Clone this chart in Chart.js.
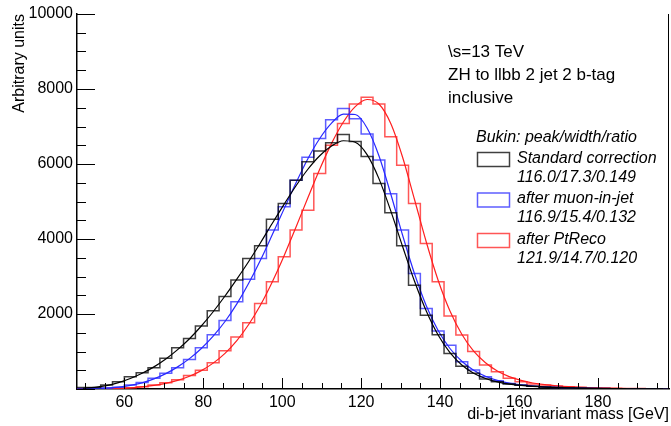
<!DOCTYPE html>
<html>
<head>
<meta charset="utf-8">
<script src="https://cdn.jsdelivr.net/npm/chart.js@4"></script>
<style>
  body { margin: 0; background: #fff; }
</style>
</head>
<body>
<canvas id="massChart" width="671" height="426"></canvas>
<script>
// binning of the di-b-jet mass histograms (GeV)
const massLow = 48;
const binWidth = 3;

// histogram contents, one value per 3 GeV bin
const standardHist = [40, 40, 110, 195, 330, 435, 570, 820, 1100, 1350, 1680, 2090, 2470, 2910, 3480, 3820, 4530, 4950, 5570, 6060,
  6350, 6570, 6790, 6600, 6200, 5480, 4700, 3820, 2770, 1970, 1450, 950, 610, 420, 270, 195, 133, 100, 75, 55,
  40, 30, 22, 16, 12, 10, 8, 6, 5, 4];
const muonHist = [15, 20, 30, 50, 110, 175, 285, 420, 570, 790, 1100, 1450, 1830, 2330, 2930, 3480, 4240, 4860, 5570, 6180,
  6680, 7180, 7480, 7210, 6800, 6110, 5210, 4240, 3080, 2150, 1550, 1170, 730, 507, 330, 222, 150, 107, 75, 55,
  40, 30, 20, 15, 12, 10, 8, 6, 5, 4];
const ptrecoHist = [5, 8, 12, 20, 36, 62, 107, 169, 245, 360, 500, 700, 1020, 1390, 1770, 2280, 2860, 3530, 4240, 4770,
  5750, 6500, 7080, 7600, 7780, 7600, 6730, 5970, 4950, 3880, 2860, 1950, 1440, 1000, 640, 460, 285, 196, 133, 107,
  80, 60, 45, 35, 25, 20, 15, 12, 10, 8];

const standardFit = [20, 45, 90, 170, 280, 420, 590, 800, 1050, 1340, 1680, 2060, 2480, 2930, 3400, 3900, 4420, 4930, 5420, 5860,
  6220, 6480, 6620, 6580, 6250, 5610, 4750, 3800, 2880, 2080, 1440, 970, 640, 420, 280, 190, 130, 95, 70, 52,
  40, 30, 22, 16, 12, 9, 7, 5, 4, 3];
const muonFit = [5, 12, 25, 50, 95, 165, 270, 410, 590, 810, 1080, 1410, 1800, 2270, 2820, 3440, 4120, 4810, 5500, 6140,
  6680, 7090, 7330, 7320, 6960, 6220, 5200, 4100, 3080, 2220, 1560, 1080, 740, 500, 340, 230, 160, 110, 80, 58,
  42, 30, 22, 16, 12, 9, 7, 5, 4, 3];
const ptrecoFit = [2, 5, 10, 18, 30, 55, 95, 150, 230, 340, 490, 690, 950, 1290, 1720, 2240, 2860, 3560, 4320, 5100,
  5860, 6550, 7120, 7530, 7720, 7600, 7080, 6180, 5060, 3920, 2900, 2080, 1460, 1010, 700, 480, 330, 230, 160, 115,
  85, 62, 46, 34, 25, 19, 14, 10, 8, 6];

const seriesNames = ["Standard correction", "after muon-in-jet", "after PtReco"];
const fitResults = ["116.0/17.3/0.149", "116.9/15.4/0.132", "121.9/14.7/0.120"];
const infoLines = ["\\s=13 TeV", "ZH to llbb 2 jet 2 b-tag", "inclusive"];

const xTicks = [60, 80, 100, 120, 140, 160, 180];
const yTicks = [2000, 4000, 6000, 8000, 10000];

const colors = ["rgb(0,0,0)", "rgb(40,40,255)", "rgb(255,30,30)"];
const histColors = ["rgba(0,0,0,0.75)", "rgba(40,40,255,0.75)", "rgba(255,30,30,0.75)"];

function stepPoints(vals) {
  const pts = vals.map((v, i) => ({ x: massLow + i * binWidth, y: v }));
  pts.push({ x: massLow + vals.length * binWidth, y: vals[vals.length - 1] });
  return pts;
}

function curvePoints(vals) {
  return vals.map((v, i) => ({ x: massLow + (i + 0.5) * binWidth, y: v }));
}

const hists = [standardHist, muonHist, ptrecoHist];
const fits = [standardFit, muonFit, ptrecoFit];
const datasets = [];
hists.forEach((h, k) => {
  datasets.push({
    data: stepPoints(h),
    stepped: "before", // each bin value holds until the next edge
    borderColor: histColors[k],
    borderWidth: 1.5,
    pointRadius: 0,
  });
  datasets.push({
    data: curvePoints(fits[k]),
    borderColor: colors[k],
    borderWidth: 1.2,
    pointRadius: 0,
    cubicInterpolationMode: "monotone",
  });
});

// ROOT-like inside ticks, right frame line and the text legend
const rootFrame = {
  id: "rootFrame",
  afterDatasetsDraw(chart) {
    const { ctx, chartArea: a, scales: { x, y } } = chart;
    ctx.save();
    ctx.strokeStyle = "#000";
    ctx.lineWidth = 1;
    ctx.beginPath();
    for (let v = 0; v <= 10000; v += 500) {
      const py = Math.round(y.getPixelForValue(v)) + 0.5;
      const len = v % 2000 === 0 ? 18 : 9;
      ctx.moveTo(a.left, py);
      ctx.lineTo(a.left + len, py);
    }
    for (let v = 50; v <= 195; v += 5) {
      const px = Math.round(x.getPixelForValue(v)) + 0.5;
      const len = v % 20 === 0 ? 11 : 6;
      ctx.moveTo(px, a.bottom);
      ctx.lineTo(px, a.bottom - len);
    }
    ctx.moveTo(a.right - 0.5, a.top);
    ctx.lineTo(a.right - 0.5, a.bottom);
    ctx.stroke();

    ctx.fillStyle = "#000";
    ctx.textBaseline = "middle";
    ctx.font = "17px 'Liberation Sans', Arial, sans-serif";
    infoLines.forEach((t, i) => ctx.fillText(t, 448, 52 + i * 23));

    ctx.font = "italic 16px 'Liberation Sans', Arial, sans-serif";
    ctx.fillText("Bukin: peak/width/ratio", 476, 138);
    seriesNames.forEach((name, i) => {
      const top = 152 + i * 40.5;
      ctx.strokeStyle = histColors[i];
      ctx.lineWidth = 1.5;
      ctx.strokeRect(477.5, top + 0.5, 32, 14);
      ctx.fillText(name, 517, top + 6.5);
      ctx.fillText(fitResults[i], 517, top + 25.5);
    });
    ctx.restore();
  },
};

const tickFont = { size: 16, family: "'Liberation Sans', Arial" };

new Chart(document.getElementById("massChart"), {
  type: "line",
  data: { datasets },
  options: {
    responsive: false,
    devicePixelRatio: 1,
    animation: false,
    layout: { padding: { top: 14, right: 2, left: 0, bottom: 0 } },
    plugins: { legend: { display: false }, tooltip: { enabled: false } },
    scales: {
      x: {
        type: "linear",
        min: 48,
        max: 198,
        afterBuildTicks: (s) => { s.ticks = xTicks.map((v) => ({ value: v })); },
        afterFit: (s) => { s.height = 37; },
        grid: { display: false, drawTicks: false },
        border: { color: "#000", width: 1.5 },
        ticks: { color: "#000", padding: 4, maxRotation: 0, font: tickFont, callback: (v) => String(v) },
        title: {
          display: true, text: "di-b-jet invariant mass [GeV]", align: "end", color: "#000",
          padding: { top: 0, bottom: 2 }, font: tickFont,
        },
      },
      y: {
        min: 0,
        max: 10000,
        afterBuildTicks: (s) => { s.ticks = yTicks.map((v) => ({ value: v })); },
        afterFit: (s) => { s.width = 77; },
        grid: { display: false, drawTicks: false },
        border: { color: "#000", width: 1.5 },
        ticks: { color: "#000", padding: 4, font: tickFont, callback: (v) => String(v) },
        title: {
          display: true, text: "Arbitrary units", align: "end", color: "#000",
          padding: { top: 10, bottom: 0 }, font: tickFont,
        },
      },
    },
  },
  plugins: [rootFrame],
});
</script>
</body>
</html>
